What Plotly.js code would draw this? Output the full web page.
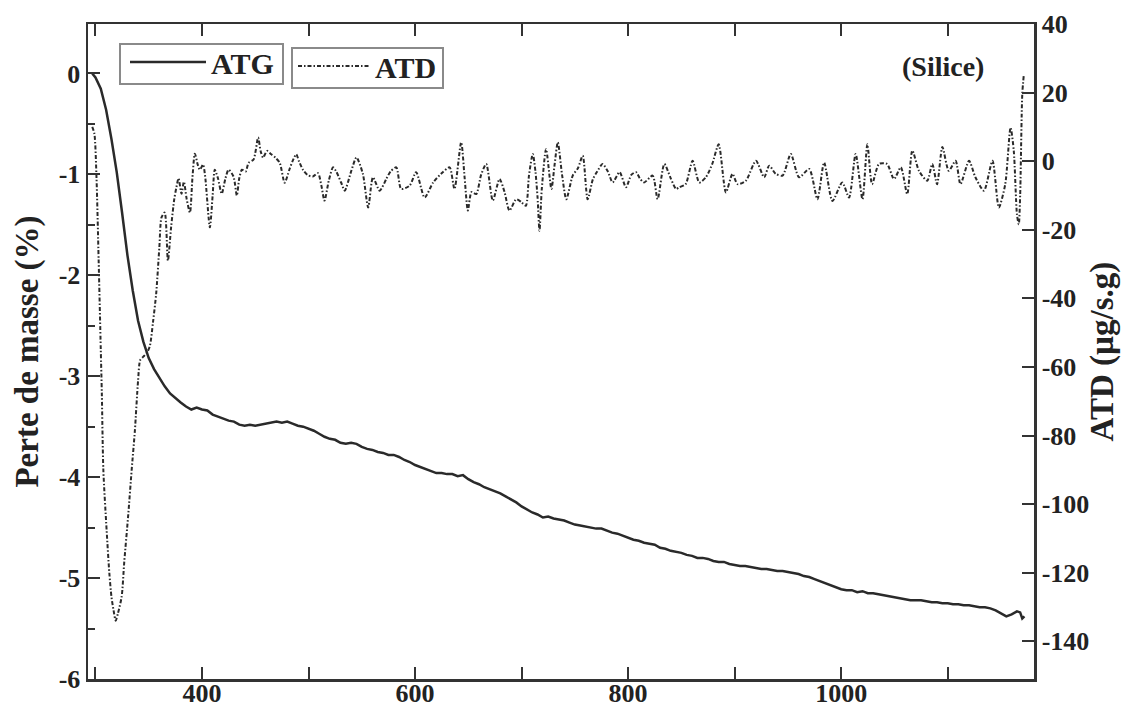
<!DOCTYPE html>
<html>
<head>
<meta charset="utf-8">
<script src="https://cdn.plot.ly/plotly-3.0.1.min.js"></script>
<style>html,body{margin:0;padding:0;background:#fff;}#chart{width:1128px;height:711px;}</style>
</head>
<body>
<div id="chart"></div>
<script>
// ---- data ----
const tempATG = [297,300,305,310,315,320,325,330,335,340,345,350,355,360,365,370,375,380,385,390,395,400,405,410,415,420,425,430,435,440,445,450,455,460,465,470,475,480,485,490,495,500,505,510,515,520,525,530,535,540,545,550,555,560,565,570,575,580,585,590,595,600,605,610,615,620,625,630,635,640,645,650,655,660,665,670,675,680,685,690,695,700,705,710,715,720,725,730,735,740,745,750,755,760,765,770,775,780,785,790,795,800,805,810,815,820,825,830,835,840,845,850,855,860,865,870,875,880,885,890,895,900,905,910,915,920,925,930,935,940,945,950,955,960,965,970,975,980,985,990,995,1000,1005,1010,1015,1020,1025,1030,1035,1040,1045,1050,1055,1060,1065,1070,1075,1080,1085,1090,1095,1100,1105,1110,1115,1120,1125,1130,1135,1140,1145,1150,1155,1160,1165,1168,1170,1172];
const atg = [0,-0.04,-0.15,-0.36,-0.65,-0.98,-1.38,-1.80,-2.15,-2.45,-2.66,-2.82,-2.93,-3.02,-3.10,-3.17,-3.22,-3.26,-3.30,-3.33,-3.31,-3.33,-3.34,-3.38,-3.40,-3.42,-3.44,-3.45,-3.48,-3.49,-3.48,-3.49,-3.48,-3.47,-3.46,-3.45,-3.46,-3.45,-3.47,-3.49,-3.50,-3.52,-3.54,-3.57,-3.60,-3.62,-3.63,-3.66,-3.67,-3.66,-3.67,-3.70,-3.72,-3.73,-3.75,-3.76,-3.78,-3.78,-3.80,-3.83,-3.85,-3.88,-3.90,-3.92,-3.94,-3.96,-3.96,-3.97,-3.97,-3.99,-3.98,-4.02,-4.05,-4.07,-4.10,-4.12,-4.14,-4.16,-4.19,-4.22,-4.25,-4.29,-4.32,-4.35,-4.37,-4.40,-4.39,-4.41,-4.42,-4.43,-4.45,-4.47,-4.48,-4.49,-4.50,-4.51,-4.51,-4.53,-4.55,-4.56,-4.58,-4.60,-4.62,-4.63,-4.65,-4.66,-4.67,-4.70,-4.71,-4.73,-4.74,-4.75,-4.77,-4.78,-4.80,-4.80,-4.81,-4.83,-4.84,-4.84,-4.86,-4.87,-4.88,-4.88,-4.89,-4.90,-4.91,-4.91,-4.92,-4.93,-4.93,-4.94,-4.95,-4.96,-4.98,-4.99,-5.01,-5.03,-5.05,-5.07,-5.09,-5.11,-5.12,-5.12,-5.14,-5.13,-5.15,-5.15,-5.16,-5.17,-5.18,-5.19,-5.20,-5.21,-5.22,-5.22,-5.22,-5.23,-5.24,-5.24,-5.25,-5.25,-5.26,-5.26,-5.27,-5.27,-5.28,-5.29,-5.29,-5.30,-5.32,-5.35,-5.38,-5.36,-5.33,-5.34,-5.40,-5.38];

const tempATD = [297,299,301,303,305,306,307.4,310.5,313,315,317,319,321,324.6,327,330.8,334,337,340,342,345,348,351,354,357,360,362,365,368,371,374,376,378,380.8,383,385.6,388.7,391,393.3,396,398,401,403,407.4,410,412,415,418.5,422,425,429.6,432.7,435,437.5,441,443.7,448.4,452.7,455,457.4,461,465,469,473,477.6,482,485,488.5,491,494.8,499,504,508.9,512,515,519,523,526,530.7,534,540,545,551,556,560.5,566.8,573,577,582.4,587,595,601,609,617,626,632.4,637,643.3,646.5,649.6,653,657.4,662,666.8,673,679.3,684,688.6,695,700,704,707,710.5,713,715,716.8,719,723,728,731,734,738,742,748,753,757.4,762,767,771,776,781,785.5,792,798,803,807.4,811,815,823,827.7,834,840,845,848,854,860.5,866.8,873,879,885,891.8,898,902.7,910.5,920,927.7,932.4,938.6,945,952.7,960.5,970,977.7,984,991.8,1001,1007.4,1013.6,1020,1024.6,1029,1035.5,1043,1049.6,1056,1062,1066.8,1073,1080.8,1085.5,1090,1095,1101,1107.4,1112,1120,1126,1134,1142,1148,1154,1159,1162,1165,1166.7,1168,1170,1171.5];
const atd = [10,8,-5,-29,-55,-68,-90,-107.7,-120,-127,-131,-134,-132,-127,-117,-103,-90,-78.6,-64,-58,-57,-56,-54,-47,-38.6,-25,-16.4,-15,-29,-19.3,-11,-7.6,-5,-9.5,-6,-11,-15,-5,2.2,-1,-2.5,-1,-4.5,-19.3,-10,-2.5,-5,-9.5,-5,-2.5,-4.5,-10,-5,-2.5,-3,-0.5,0.5,6.9,3,1,3,2,1,-0.5,-6.3,-2.5,0,2,0,-2.5,-4,-4.5,-3.5,-7,-11.5,-5.7,-1.8,-3,-6.3,-8.6,-3,1.1,-3.7,-13.5,-4.7,-8.6,-5.2,-3,-1.8,-8.1,-7.1,-3.2,-10.6,-6.2,-3.2,-1.8,-8.1,5.5,-4.7,-14.4,-9,-9.6,-4,-0.8,-11.5,-5.2,-9,-14.4,-11.1,-12,-13,-4,2.1,-3,-10.6,-20.3,-8,3.5,-8.1,-1,5.5,-4,-11.1,-4.2,-2,1.6,-11.1,-5.2,-3,-0.8,-3,-6.2,-3.2,-7.6,-4,-3.2,-5,-6.2,-4.2,-11.1,-0.8,-5,-8.1,-7.6,-6.7,0.1,-6.2,-4.7,-0.8,4.9,-9.1,-3.7,-6.7,-5.7,0.1,-4.7,-1.3,-3.7,-4.2,2.1,-4.7,-2.3,-11.1,-0.4,-11.6,-6.2,-10.6,2.1,-11.1,4.9,-6.7,-0.8,-0.8,-5.2,-1.8,-9.6,3.1,-2.8,-5.7,-0.8,-6.7,4.1,-2.8,0.1,-6.7,0.1,-4.7,-8.6,0.1,-13.5,-6.7,9.8,3.1,-15.5,-18.4,-10,19.6,25.4];

const xTicks = [400,600,800,1000];
const xLabels = ["400","600","800","1000"];
const yLeftTicks = [0,-1,-2,-3,-4,-5,-6];
const yLeftLabels = ["0","-1","-2","-3","-4","-5","-6"];
const yRightTicks = [40,20,0,-20,-40,-60,-80,-100,-120,-140];
const yRightLabels = ["40","20","0","-20","-40","-60","-80","-100","-120","-140"];

const serif = "Liberation Serif, Times New Roman, serif";
const axisCol = "#333";
const bold = s => "<b>" + s + "</b>";

const traces = [
  {x: tempATG, y: atg, type: "scatter", mode: "lines", name: "ATG",
   line: {color: "#2a2a2a", width: 2.5}, legend: "legend", yaxis: "y"},
  {x: tempATD, y: atd, type: "scatter", mode: "lines", name: "ATD",
   line: {color: "#2a2a2a", width: 2, dash: "4px,2px,1.5px,2px", shape: "spline", smoothing: 0.7},
   legend: "legend2", yaxis: "y2"}
];

const tickFont = {family: serif, size: 26, color: "#222", weight: 700};
const legFont = {family: serif, size: 30, color: "#222", weight: 700};

// paper-coordinate helpers for the plot area (l=88, t=24, w=946, h=655)
const px = v => (v - 88) / 946;
const py = v => 1 - (v - 24) / 655;

const layout = {
  width: 1128, height: 711,
  margin: {l: 88, r: 94, t: 24, b: 32},
  paper_bgcolor: "#fff", plot_bgcolor: "#fff",
  showlegend: true,
  xaxis: {
    range: [293, 1181], tickmode: "array", tickvals: xTicks, ticktext: xLabels.map(bold),
    ticks: "inside", ticklen: 12, tickwidth: 2, tickcolor: axisCol, ticklabelstandoff: -11,
    showline: true, linecolor: axisCol, linewidth: 2.5, mirror: "allticks",
    showgrid: false, zeroline: false, tickfont: tickFont,
    minor: {tickvals: [300,500,700,900,1100], ticks: "inside", ticklen: 7, tickwidth: 2, tickcolor: axisCol, showgrid: false}
  },
  yaxis: {
    range: [-6, 0.49], tickmode: "array", tickvals: yLeftTicks, ticktext: yLeftLabels.map(bold),
    ticks: "inside", ticklen: 12, tickwidth: 2, tickcolor: axisCol,
    showline: true, linecolor: axisCol, linewidth: 2.5, showgrid: false, zeroline: false, tickfont: tickFont,
    minor: {dtick: 0.5, tick0: 0, ticks: "inside", ticklen: 7, tickwidth: 2, tickcolor: axisCol, showgrid: false},
    title: {text: "<b>Perte de masse (%)</b>", font: {family: serif, size: 33, color: "#222", weight: 700}, standoff: 10}
  },
  yaxis2: {
    overlaying: "y", side: "right", range: [-151, 40], tickmode: "array", tickvals: yRightTicks, ticktext: yRightLabels.map(bold),
    ticks: "inside", ticklen: 12, tickwidth: 2, tickcolor: axisCol,
    showline: true, linecolor: axisCol, linewidth: 2.5, showgrid: false, zeroline: false, tickfont: tickFont,
    title: {text: "<b>ATD (µg/s.g)</b>", font: {family: serif, size: 33, color: "#222", weight: 700}, standoff: 2}
  },
  legend: {
    x: px(125), y: py(36), xanchor: "left", yanchor: "top",
    borderwidth: 0, bgcolor: "rgba(255,255,255,0)", font: legFont, itemwidth: 76
  },
  legend2: {
    x: px(293), y: py(40), xanchor: "left", yanchor: "top",
    borderwidth: 0, bgcolor: "rgba(255,255,255,0)", font: legFont, itemwidth: 72
  },
  shapes: [
    {type: "rect", xref: "paper", yref: "paper", x0: px(120), x1: px(283), y0: py(84), y1: py(44),
     line: {color: "#8a8a8a", width: 2}},
    {type: "rect", xref: "paper", yref: "paper", x0: px(292), x1: px(443), y0: py(88), y1: py(48),
     line: {color: "#8a8a8a", width: 2}}
  ],
  annotations: [{
    xref: "paper", yref: "paper", x: px(943), y: py(67), xanchor: "center", yanchor: "middle",
    text: "<b>(Silice)</b>", showarrow: false, font: {family: serif, size: 28, color: "#222", weight: 700}
  }]
};

Plotly.newPlot("chart", traces, layout, {displayModeBar: false, staticPlot: true});
</script>
</body>
</html>
